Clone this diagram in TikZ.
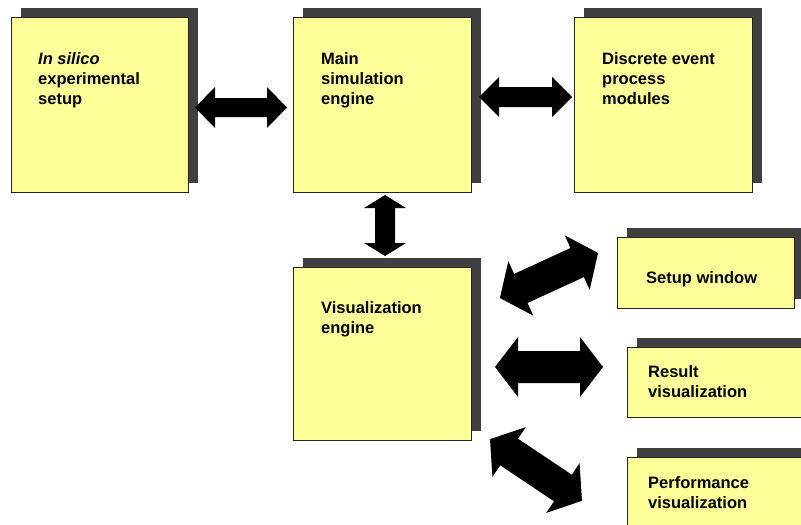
\documentclass[tikz,border=0pt]{standalone}
\usepackage{fontspec}
\setmainfont{Liberation Sans}
\usetikzlibrary{shadows}
\definecolor{boxyellow}{HTML}{FFFF99}
\definecolor{shadowgray}{HTML}{404040}
\begin{document}
\begin{tikzpicture}[x=1pt,y=-1pt,
  box/.style={draw=black!85, line width=0.8pt, fill=boxyellow, anchor=north west, inner sep=0pt,
    general shadow={fill=shadowgray, shadow xshift=10pt, shadow yshift=9pt}},
  lbl/.style={anchor=base west, align=left, inner sep=0pt,
    font=\fontsize{16.5}{20}\selectfont\bfseries},
  pics/fatarrow/.style n args={4}{code={
    \fill[black] (-#1/2,0) -- (-#1/2+#4,#2) -- (-#1/2+#4,#3) -- (#1/2-#4,#3) -- (#1/2-#4,#2)
      -- (#1/2,0) -- (#1/2-#4,-#2) -- (#1/2-#4,-#3) -- (-#1/2+#4,-#3) -- (-#1/2+#4,-#2) -- cycle;}}]
\useasboundingbox (0,0) rectangle (801,525);
\clip (0,0) rectangle (801,525);
% boxes
\node[box, minimum width=177pt, minimum height=175pt] (insilico) at (11,17) {};
\node[box, minimum width=178pt, minimum height=175pt] (mainsim) at (293,17) {};
\node[box, minimum width=178pt, minimum height=175pt] (discrete) at (574,17) {};
\node[box, minimum width=178pt, minimum height=173pt] (viseng) at (293,267) {};
\node[box, minimum width=177pt, minimum height=71pt] (setup) at (617,237) {};
\node[box, minimum width=200pt, minimum height=70pt] (result) at (627,347) {};
\node[box, minimum width=200pt, minimum height=90pt] (perf) at (627,457) {};
% labels (anchored at the baseline of the last line)
\node[lbl] (tinsilico) at (38,104) {\textit{In silico}\\experimental\\setup};
\node[lbl] (tmainsim) at (321,104) {Main\\simulation\\engine};
\node[lbl] (tdiscrete) at (602,104) {Discrete event\\process\\modules};
\node[lbl] (tviseng) at (321,333) {Visualization\\engine};
\node[lbl] (tsetup) at (646,283) {Setup window};
\node[lbl] (tresult) at (648,397) {Result\\visualization};
\node[lbl] (tperf) at (648,508) {Performance\\visualization};
% block arrows
\pic at (241,107.5) {fatarrow={92}{20.5}{9.5}{20}};
\pic at (525.5,97) {fatarrow={93}{20}{10}{20}};
\pic[rotate=90] at (385,225.5) {fatarrow={61}{21}{10}{13}};
\pic[rotate=24.7] at (549,275.5) {fatarrow={108}{30}{16}{23}};
\pic at (549,367) {fatarrow={108}{30}{16}{23}};
\pic[rotate=-33.8] at (536,470) {fatarrow={110.7}{30}{16}{23}};
\end{tikzpicture}
\end{document}
